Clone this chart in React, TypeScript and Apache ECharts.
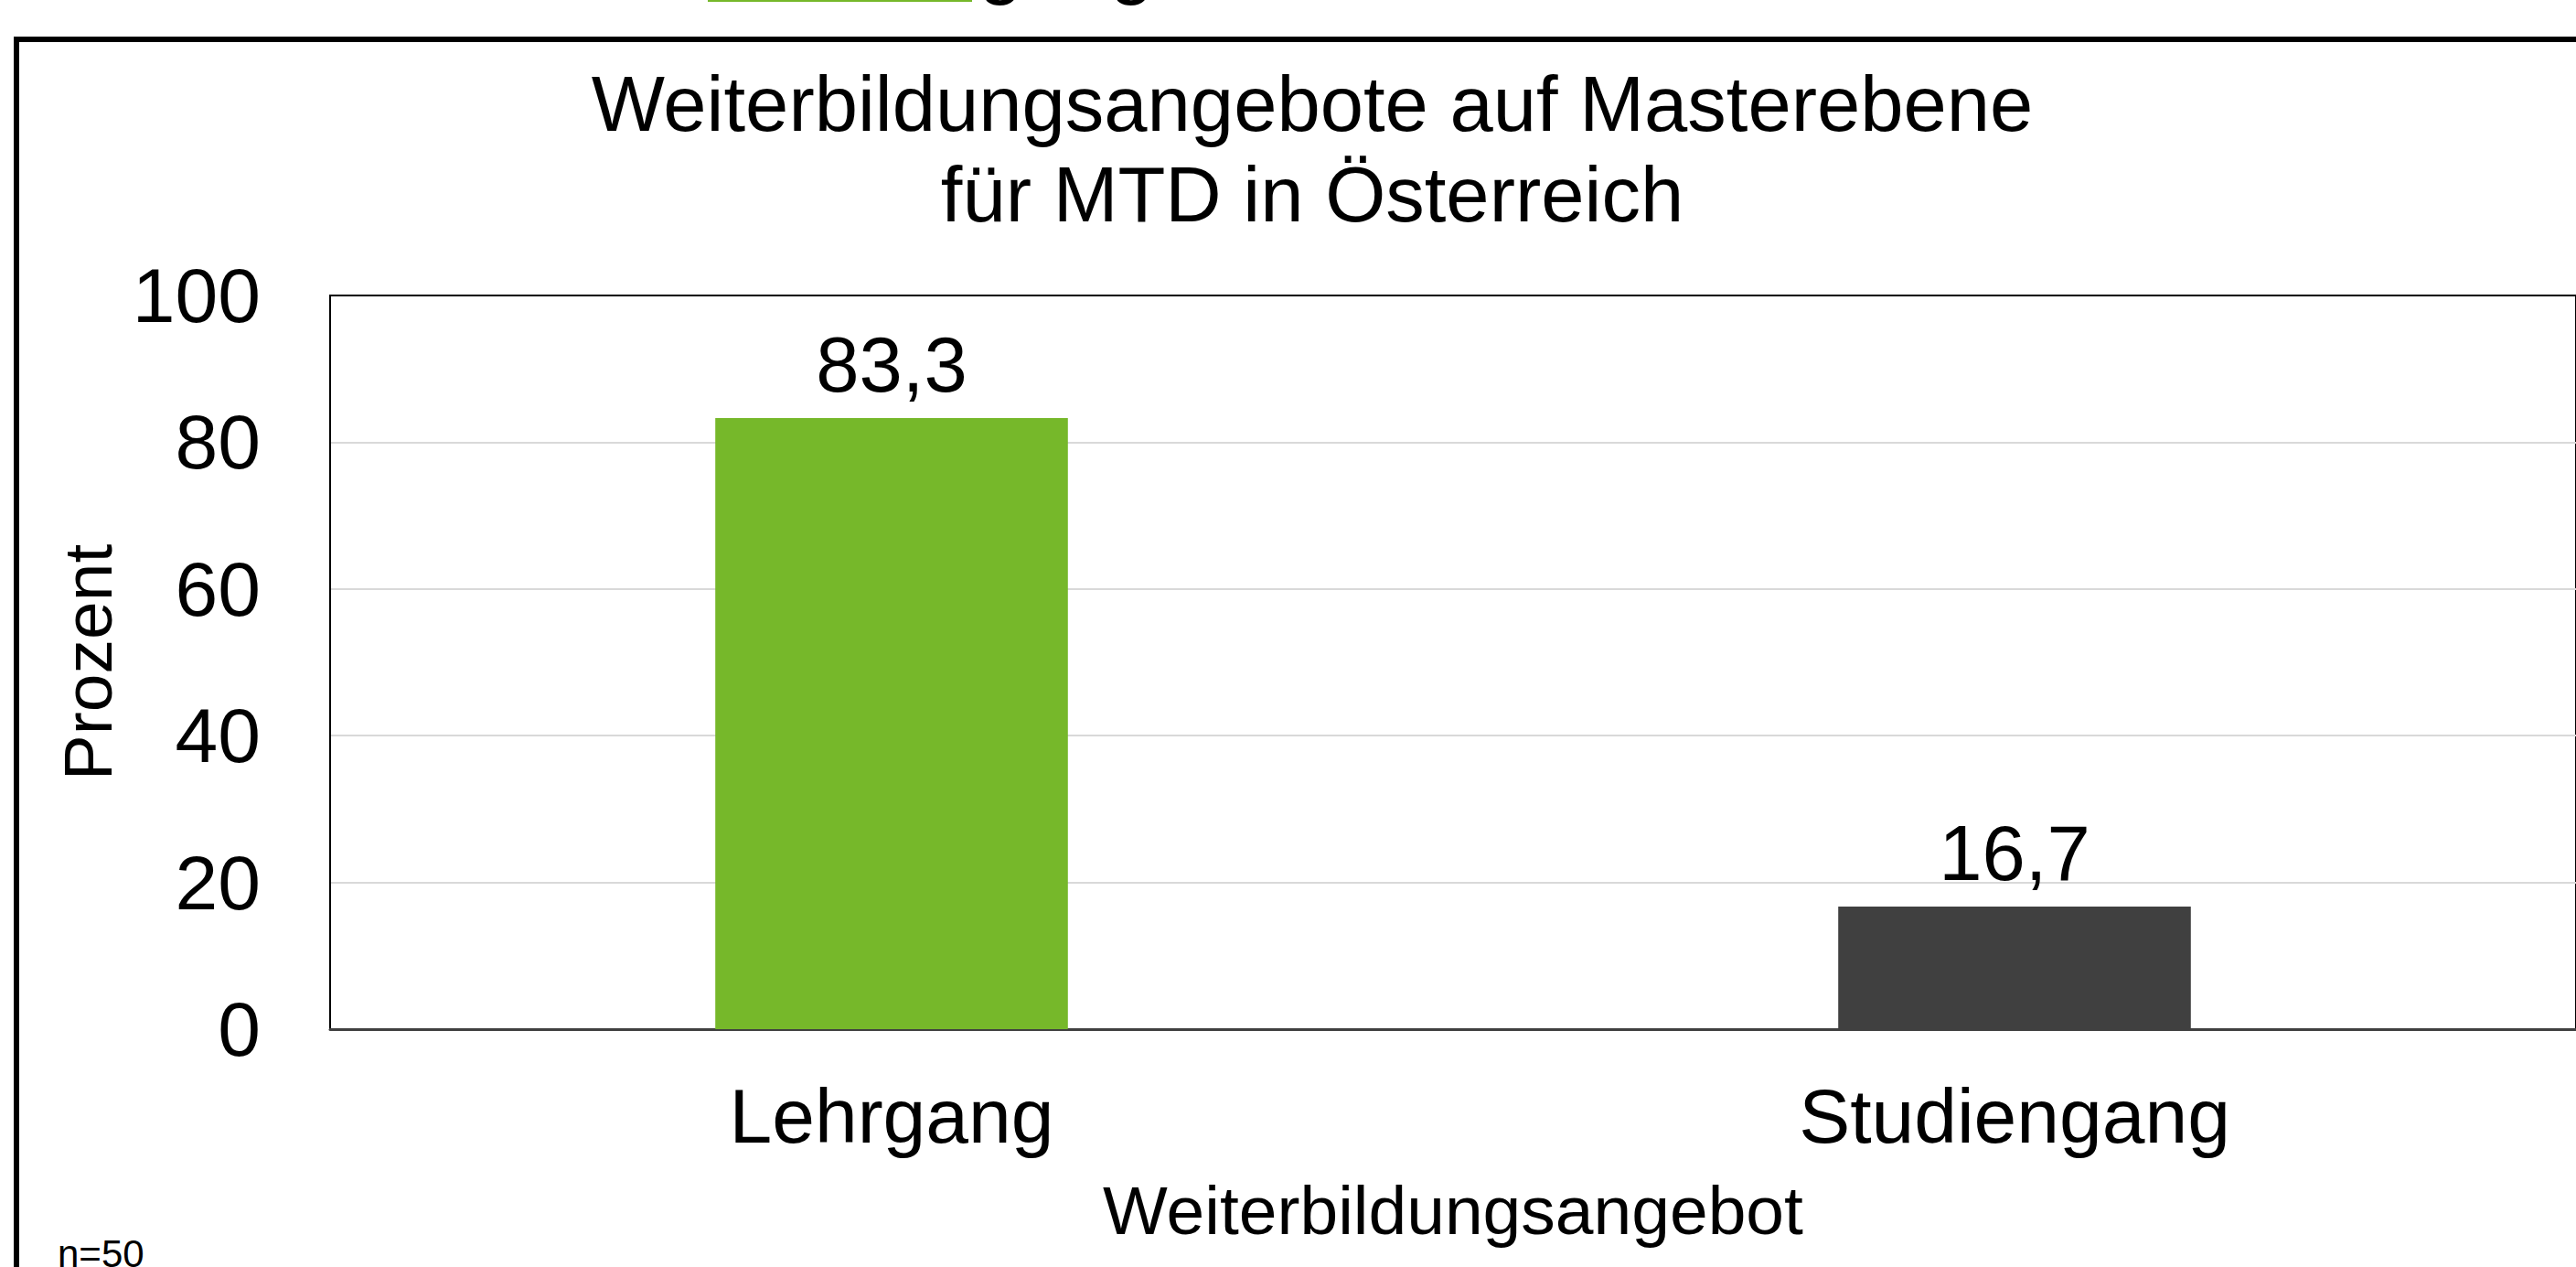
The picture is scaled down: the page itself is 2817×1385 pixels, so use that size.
import React, { useEffect, useRef } from "react";
import * as echarts from "echarts";

const categories = ["Lehrgang", "Studiengang"];
const values = [83.3, 16.7];
const barColors = ["#76B82A", "#404040"];
const titleText = "Weiterbildungsangebote auf Masterebene\nfür MTD in Österreich";
const xAxisName = "Weiterbildungsangebot";
const yAxisName = "Prozent";
const sampleNote = "n=50";
const legendCutText = "Lehrgang";

const FONT = "'Liberation Sans', Arial, Helvetica, sans-serif";

export default function App() {
  const ref = useRef<HTMLDivElement>(null);
  useEffect(() => {
    document.body.style.margin = "0";
    const chart = echarts.init(ref.current!, null, { renderer: "svg" });
    const option: any = {
      animation: false,
      backgroundColor: "#ffffff",
      textStyle: { fontFamily: FONT, color: "#000" },
      grid: {
        left: 361,
        top: 323,
        width: 2462,
        height: 802,
        show: true,
        borderColor: "#000000",
        borderWidth: 2,
        backgroundColor: "transparent",
        containLabel: false,
      },
      xAxis: {
        type: "category",
        data: categories,
        axisLine: { show: true, lineStyle: { color: "#404040", width: 3 } },
        axisTick: { show: false },
        axisLabel: {
          fontSize: 84,
          lineHeight: 84,
          margin: 53,
          color: "#000",
          fontFamily: FONT,
        },
        name: xAxisName,
        nameLocation: "middle",
        nameGap: 160,
        nameTextStyle: { fontSize: 75, lineHeight: 75, color: "#000", fontFamily: FONT },
      },
      yAxis: {
        type: "value",
        min: 0,
        max: 100,
        interval: 20,
        axisLine: { show: true, lineStyle: { color: "#000", width: 2 } },
        axisTick: { show: false },
        splitLine: {
          show: true,
          lineStyle: {
            color: ["#d9d9d9", "#d9d9d9", "#d9d9d9", "#d9d9d9", "#d9d9d9", "#000000"],
            width: 2,
          },
        },
        axisLabel: {
          fontSize: 84,
          lineHeight: 84,
          margin: 76,
          color: "#000",
          fontFamily: FONT,
        },
        name: yAxisName,
        nameLocation: "middle",
        nameRotate: 90,
        nameGap: 226,
        nameTextStyle: { fontSize: 75, lineHeight: 75, color: "#000", fontFamily: FONT },
      },
      series: [
        {
          type: "bar",
          data: values.map((v, i) => ({ value: v, itemStyle: { color: barColors[i] } })),
          barWidth: "31.4%",
          label: {
            show: true,
            position: "top",
            distance: 16,
            fontSize: 85,
            lineHeight: 85,
            color: "#000",
            fontFamily: FONT,
            formatter: (p: any) => String(p.value).replace(".", ","),
          },
        },
      ],
      graphic: [
        {
          type: "rect",
          z: -10,
          shape: { x: 18, y: 43, width: 3200, height: 2000 },
          style: { fill: "none", stroke: "#000", lineWidth: 6 },
          silent: true,
        },
        {
          type: "rect",
          shape: { x: 774, y: -60, width: 289, height: 62 },
          style: { fill: "#76B82A" },
          silent: true,
        },
        {
          type: "text",
          x: 898,
          y: -42,
          style: {
            text: legendCutText,
            fontSize: 86,
            fontFamily: FONT,
            fill: "#000",
            textAlign: "left",
            textVerticalAlign: "middle",
          },
          silent: true,
        },
        {
          type: "text",
          x: 1435,
          y: 64,
          style: {
            text: titleText,
            fontSize: 85,
            lineHeight: 99,
            fontFamily: FONT,
            fill: "#000",
            textAlign: "center",
            textVerticalAlign: "top",
          },
          silent: true,
        },
        {
          type: "text",
          x: 63,
          y: 1370,
          style: {
            text: sampleNote,
            fontSize: 42,
            fontFamily: FONT,
            fill: "#000",
            textAlign: "left",
            textVerticalAlign: "middle",
          },
          silent: true,
        },
      ],
    };
    chart.setOption(option);
    return () => chart.dispose();
  }, []);
  return <div ref={ref} style={{ width: 2817, height: 1385 }} />;
}
